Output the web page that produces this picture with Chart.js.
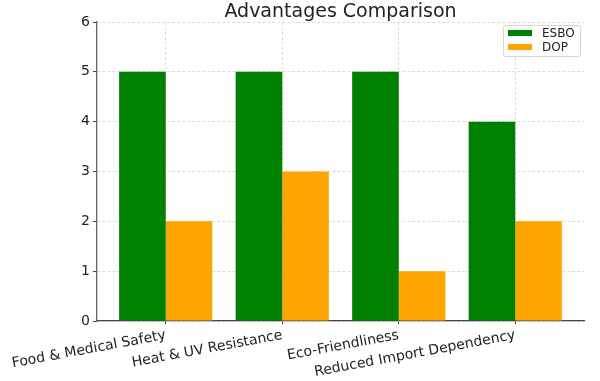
<!DOCTYPE html>
<html>
<head>
<meta charset="utf-8">
<script src="https://cdn.jsdelivr.net/npm/chart.js@4"></script>
<style>
  html, body { margin: 0; padding: 0; background: #fff; }
  #wrap { width: 600px; height: 381px; }
</style>
</head>
<body>
<div id="wrap"><canvas id="chart" width="600" height="381"></canvas></div>
<script>
// --- DATA ---
const categories = ['Food & Medical Safety', 'Heat & UV Resistance', 'Eco-Friendliness', 'Reduced Import Dependency'];
const esboValues = [5, 5, 5, 4];
const dopValues = [2, 3, 1, 2];
const yTicks = [0, 1, 2, 3, 4, 5, 6];
const chartTitle = 'Advantages Comparison';

const FONT = "'DejaVu Sans', sans-serif";

// title + in-plot legend, matplotlib style
const overlay = {
    id: 'overlay',
    afterDraw(chart) {
        const { ctx, chartArea } = chart;
        ctx.save();
        ctx.fillStyle = '#222';
        ctx.font = "19px " + FONT;
        ctx.textAlign = 'center';
        ctx.textBaseline = 'alphabetic';
        ctx.fillText(chartTitle, (chartArea.left + chartArea.right) / 2, 17);

        // legend box
        const bx = 503, by = 25, bw = 77, bh = 31;
        ctx.fillStyle = 'rgba(255,255,255,0.85)';
        ctx.strokeStyle = '#d5d5d5';
        ctx.lineWidth = 1;
        ctx.beginPath();
        ctx.roundRect(bx + 0.5, by + 0.5, bw, bh, 2);
        ctx.fill();
        ctx.stroke();
        ctx.font = "12px " + FONT;
        ctx.textAlign = 'left';
        ctx.textBaseline = 'middle';
        chart.data.datasets.forEach((ds, i) => {
            const cy = by + 8 + i * 14;
            ctx.fillStyle = ds.backgroundColor;
            ctx.fillRect(bx + 5, cy - 3, 24, 6);
            ctx.fillStyle = '#222';
            ctx.fillText(ds.label, bx + 39, cy + 1);
        });
        ctx.restore();
    }
};

new Chart(document.getElementById('chart'), {
    type: 'bar',
    data: {
        datasets: [
            { label: 'ESBO', data: esboValues.map((v, i) => ({ x: i, y: v })), backgroundColor: '#008000' },
            { label: 'DOP', data: dopValues.map((v, i) => ({ x: i, y: v })), backgroundColor: '#FFA500' }
        ]
    },
    options: {
        responsive: false,
        animation: false,
        layout: { padding: { top: 22, right: 16, left: 0, bottom: 0 } },
        categoryPercentage: 0.8,
        barPercentage: 1.0,
        plugins: { legend: { display: false }, title: { display: false }, tooltip: { enabled: false } },
        scales: {
            x: {
                type: 'linear',
                min: -0.59,
                max: 3.59,
                offset: false,
                afterBuildTicks: s => { s.ticks = categories.map((c, i) => ({ value: i })); },
                afterFit: s => { s.height = 60; s.paddingLeft = 0; s.paddingRight = 0; },
                ticks: {
                    autoSkip: false,
                    minRotation: 10.5,
                    maxRotation: 10.5,
                    padding: 3,
                    color: '#222',
                    font: { family: FONT, size: 14 },
                    callback: v => categories[v]
                },
                grid: { offset: false, color: '#dcdcdc', tickColor: '#444', tickLength: 3 },
                border: { display: true, color: '#444', width: 1.3, dash: [3, 2] }
            },
            y: {
                min: 0,
                max: 6,
                afterBuildTicks: s => { s.ticks = yTicks.map(v => ({ value: v })); },
                afterFit: s => { s.width = 97; },
                ticks: {
                    padding: 3,
                    color: '#222',
                    font: { family: FONT, size: 14 }
                },
                grid: { color: '#dcdcdc', tickColor: '#444', tickLength: 4 },
                border: { display: true, color: '#666', width: 1.3, dash: [3, 2] }
            }
        }
    },
    plugins: [overlay]
});
</script>
</body>
</html>
